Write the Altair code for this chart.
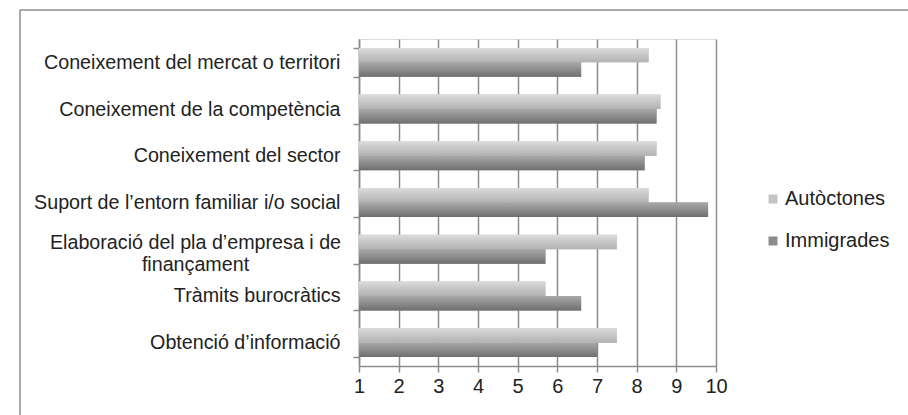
import altair as alt
import pandas as pd

categories = [
    "Coneixement del mercat o territori",
    "Coneixement de la competència",
    "Coneixement del sector",
    "Suport de l’entorn familiar i/o social",
    "Elaboració del pla d’empresa i de finançament",
    "Tràmits burocràtics",
    "Obtenció d’informació",
]
# category whose label is drawn on two centred lines
wrapped_category = categories[4]
wrapped_lines = ["Elaboració del pla d’empresa i de", "finançament"]
series = ["Autòctones", "Immigrades"]
autoctones = [8.3, 8.6, 8.5, 8.3, 7.5, 5.7, 7.5]
immigrades = [6.6, 8.5, 8.2, 9.8, 5.7, 6.6, 7.0]
x_ticks = list(range(1, 11))

rows = []
for c, a, i in zip(categories, autoctones, immigrades):
    rows.append({"cat": c, "series": series[0], "val": a})
    rows.append({"cat": c, "series": series[1], "val": i})
df = pd.DataFrame(rows)
wrap_df = pd.DataFrame({"cat": [wrapped_category], "label": ["\n".join(wrapped_lines)]})

FONT = "Liberation Sans"
GRID = "#8c8c8c"
TXT = "#222222"

label_expr = f"datum.value == '{wrapped_category}' ? '' : datum.value"

y_scale = alt.Scale(domain=categories, paddingInner=0.38, paddingOuter=0.19)
x_scale = alt.Scale(domain=[1, 10], nice=False, zero=False)
yoff_scale = alt.Scale(domain=series, paddingInner=0, paddingOuter=0)

y_enc = alt.Y(
    "cat:N",
    sort=categories,
    scale=y_scale,
    axis=alt.Axis(
        title=None,
        tickBand="extent",
        grid=False,
        domainColor=GRID,
        domainWidth=1.5,
        tickColor=GRID,
        tickWidth=1.5,
        tickSize=6,
        labelPadding=13,
        labelFontSize=19.7,
        labelColor=TXT,
        labelFont=FONT,
        labelLimit=400,
        labelExpr=label_expr,
    ),
)
x_enc = alt.X(
    "val:Q",
    scale=x_scale,
    axis=alt.Axis(
        title=None,
        values=x_ticks,
        tickCount=10,
        grid=True,
        gridColor=GRID,
        gridWidth=1.5,
        domainColor=GRID,
        domainWidth=1.5,
        tickColor=GRID,
        tickWidth=1.5,
        tickSize=6,
        labelPadding=4,
        labelFontSize=20,
        labelColor=TXT,
        labelFont=FONT,
        labelFlush=False,
        labelOverlap=False,
    ),
)
yoff_enc = alt.YOffset("series:N", scale=yoff_scale)

flat = alt.Chart(df).mark_bar().encode(
    y=y_enc,
    x=x_enc,
    x2=alt.X2(datum=1),
    yOffset=yoff_enc,
    color=alt.Color(
        "series:N",
        scale=alt.Scale(domain=series, range=["#c4c4c4", "#8c8c8c"]),
        legend=alt.Legend(
            title=None,
            orient="none",
            legendX=404,
            legendY=150,
            symbolType="square",
            symbolSize=81,
            symbolStrokeWidth=0,
            labelFontSize=20,
            labelFont=FONT,
            labelColor=TXT,
            labelOffset=2,
            rowPadding=22,
        ),
    ),
)

grad_a = alt.Gradient(
    gradient="linear", x1=0, x2=0, y1=0, y2=1,
    stops=[
        alt.GradientStop(offset=0, color="#dcdcdc"),
        alt.GradientStop(offset=0.45, color="#c8c8c8"),
        alt.GradientStop(offset=1, color="#b2b2b2"),
    ],
)
grad_i = alt.Gradient(
    gradient="linear", x1=0, x2=0, y1=0, y2=1,
    stops=[
        alt.GradientStop(offset=0, color="#a9a9a9"),
        alt.GradientStop(offset=0.55, color="#8a8a8a"),
        alt.GradientStop(offset=1, color="#6e6e6e"),
    ],
)

bars_a = alt.Chart(df).transform_filter(alt.datum.series == series[0]).mark_bar(color=grad_a).encode(
    y=y_enc, x=x_enc, x2=alt.X2(datum=1), yOffset=yoff_enc,
)
bars_i = alt.Chart(df).transform_filter(alt.datum.series == series[1]).mark_bar(color=grad_i).encode(
    y=y_enc, x=x_enc, x2=alt.X2(datum=1), yOffset=yoff_enc,
)

wrapped_text = alt.Chart(wrap_df).mark_text(
    align="center", baseline="middle", lineBreak="\n", lineHeight=22, dy=-6,
    fontSize=19.7, font=FONT, color=TXT,
).encode(
    y=y_enc,
    x=alt.value(-163.5),
    text="label:N",
)

frame_df = pd.DataFrame({"k": [0]})
frame_top = alt.Chart(frame_df).mark_rule(color="#8e8e8e", strokeWidth=1.5).encode(
    x=alt.value(-339), x2=alt.value(600), y=alt.value(-29)
)
frame_left = alt.Chart(frame_df).mark_rule(color="#8e8e8e", strokeWidth=1.5).encode(
    x=alt.value(-339), y=alt.value(-29), y2=alt.value(420)
)

chart = alt.layer(flat, bars_a, bars_i, wrapped_text, frame_top, frame_left).properties(
    width=357,
    height=327,
    autosize=alt.AutoSizeParams(type="none"),
    padding={"left": 359, "top": 39, "right": 192, "bottom": 49},
).configure_view(strokeWidth=0).configure(background="white")

chart.save("out.html", embed_options={"renderer": "svg", "actions": False})
